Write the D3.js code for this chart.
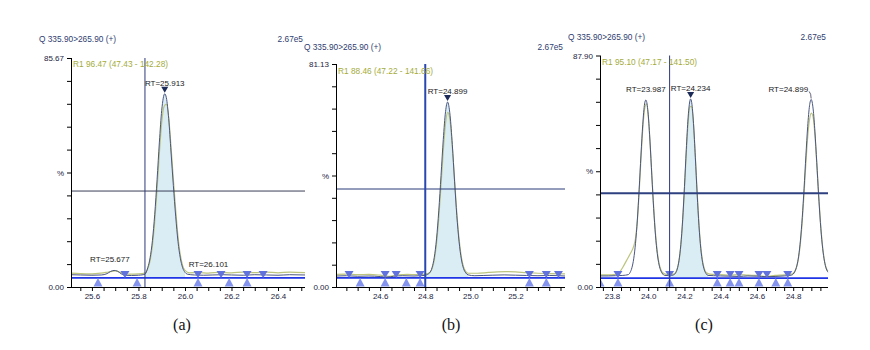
<!DOCTYPE html>
<html>
<head>
<meta charset="utf-8">
<script src="https://cdn.jsdelivr.net/npm/d3@7"></script>
<style>
  body { margin: 0; background: #fff; }
  svg text { font-family: "Liberation Sans", Arial, sans-serif; }
</style>
</head>
<body>
<svg id="chart" width="870" height="350"></svg>
<script>
// ---------- chart values ----------
const channelTitle = "Q 335.90>265.90 (+)";
const fullScale = "2.67e5";
const captions = ["(a)", "(b)", "(c)"];

// panel (a)
const yMaxA = 85.67;
const ratioA = "R1 96.47 (47.43 - 142.28)";
const xTicksA = [25.6, 25.8, 26.0, 26.2, 26.4];
const traceA = [[25.51,4.6],[25.55,4.5],[25.60,4.4],[25.64,4.5],[25.665,5.0],[25.68,5.8],[25.695,6.2],[25.71,5.9],[25.725,5.0],[25.74,4.4],[25.77,4.3],[25.80,4.4],[25.82,4.6],[25.828,4.8],[25.84,7.2],[25.85,10.9],[25.86,17.3],[25.87,27.2],[25.88,40.1],[25.89,54.2],[25.90,66.1],[25.913,72.3],[25.92,70.8],[25.93,63.0],[25.94,50.5],[25.95,38.0],[25.96,26.5],[25.97,17.0],[25.98,10.8],[25.99,7.2],[26.00,5.5],[26.01,4.8],[26.04,4.5],[26.08,4.4],[26.12,4.5],[26.16,4.6],[26.20,4.5],[26.25,4.4],[26.30,4.6],[26.35,4.5],[26.40,4.4],[26.45,4.6],[26.516,4.5]];
const smoothA = [[25.51,5.2],[25.55,5.0],[25.60,4.9],[25.64,5.2],[25.67,5.6],[25.70,6.0],[25.73,5.3],[25.76,4.8],[25.80,4.9],[25.83,5.3],[25.84,6.8],[25.85,9.8],[25.86,15.5],[25.87,24.5],[25.88,36.5],[25.89,50.0],[25.90,61.5],[25.91,67.5],[25.92,68.4],[25.93,63.5],[25.94,52.5],[25.95,40.5],[25.96,29.0],[25.97,19.0],[25.98,12.0],[25.99,8.0],[26.00,6.2],[26.02,5.3],[26.06,5.4],[26.10,5.2],[26.15,5.5],[26.20,5.3],[26.25,5.6],[26.30,5.4],[26.35,5.6],[26.40,5.3],[26.45,5.6],[26.516,5.4]];
const peaksA = [{ rt: 25.677, h: 6.2, apex: false }, { rt: 25.913, h: 72.3, apex: true }, { rt: 26.101, h: 4.5, apex: false }];
const startMarksA = [25.626, 25.794, 26.056, 26.190, 26.267];
const endMarksA = [25.742, 26.056, 26.155, 26.267, 26.336];
const cursorA = 25.828, thresholdA = 35.9, baselineA = 3.4, integA = [25.828, 26.00];

// panel (b)
const yMaxB = 81.13;
const ratioB = "R1 88.46 (47.22 - 141.66)";
const xTicksB = [24.6, 24.8, 25.0, 25.2];
const traceB = [[24.404,4.0],[24.45,4.1],[24.50,3.9],[24.55,4.0],[24.60,3.8],[24.63,3.6],[24.66,3.9],[24.70,4.1],[24.75,4.0],[24.78,4.1],[24.80,4.3],[24.82,5.2],[24.83,7.0],[24.84,10.8],[24.85,17.5],[24.86,27.7],[24.87,40.6],[24.88,53.7],[24.89,63.8],[24.899,67.3],[24.91,62.5],[24.92,51.8],[24.93,38.5],[24.94,26.0],[24.95,16.5],[24.96,10.2],[24.97,6.7],[24.98,5.1],[24.99,4.4],[25.02,4.1],[25.06,4.2],[25.10,4.3],[25.15,4.4],[25.20,4.3],[25.25,4.2],[25.30,4.1],[25.35,4.2],[25.42,4.0]];
const smoothB = [[24.404,4.6],[24.45,4.7],[24.50,4.5],[24.55,4.6],[24.60,4.3],[24.64,3.9],[24.68,4.4],[24.72,4.6],[24.76,4.5],[24.80,4.7],[24.82,5.3],[24.83,6.6],[24.84,9.8],[24.85,15.8],[24.86,25.0],[24.87,37.0],[24.88,49.5],[24.89,59.5],[24.90,63.5],[24.91,60.5],[24.92,51.0],[24.93,39.0],[24.94,27.0],[24.95,17.5],[24.96,11.0],[24.97,7.3],[24.98,5.6],[24.99,5.0],[25.03,5.0],[25.08,5.3],[25.12,5.5],[25.16,5.6],[25.20,5.5],[25.25,5.2],[25.30,5.0],[25.35,4.9],[25.42,4.8]];
const peaksB = [{ rt: 24.899, h: 67.3, apex: true }];
const startMarksB = [24.511, 24.622, 24.716, 24.777, 25.262, 25.337];
const endMarksB = [24.462, 24.622, 24.671, 24.777, 25.262, 25.337, 25.391];
const cursorB = 24.80, thresholdB = 35.65, baselineB = 3.3, integB = [24.80, 24.99];

// panel (c)
const yMaxC = 87.90;
const ratioC = "R1 95.10 (47.17 - 141.50)";
const xTicksC = [23.8, 24.0, 24.2, 24.4, 24.6, 24.8];
const traceC = [[23.734,4.2],[23.78,4.2],[23.82,4.3],[23.86,4.4],[23.89,4.7],[23.90,5.5],[23.91,7.3],[23.92,10.7],[23.93,16.6],[23.94,25.4],[23.95,37.1],[23.96,50.1],[23.97,61.8],[23.98,69.5],[23.987,71.0],[23.99,70.7],[24.00,65.6],[24.01,55.1],[24.02,42.2],[24.03,29.8],[24.04,19.7],[24.05,12.7],[24.06,8.4],[24.07,6.1],[24.08,4.9],[24.09,4.4],[24.118,4.3],[24.14,4.6],[24.15,5.2],[24.16,6.8],[24.17,10.1],[24.18,16.1],[24.19,25.5],[24.20,38.1],[24.21,52.1],[24.22,64.2],[24.234,71.4],[24.24,70.0],[24.25,62.1],[24.26,49.3],[24.27,35.4],[24.28,23.3],[24.29,14.6],[24.30,9.3],[24.31,6.4],[24.32,5.0],[24.33,4.4],[24.36,4.3],[24.40,4.2],[24.45,4.1],[24.50,4.0],[24.55,4.2],[24.60,4.1],[24.65,3.9],[24.70,4.0],[24.75,4.2],[24.79,4.5],[24.80,4.9],[24.81,6.0],[24.82,8.0],[24.83,11.7],[24.84,17.8],[24.85,26.4],[24.86,37.5],[24.87,49.8],[24.88,61.0],[24.89,68.8],[24.899,71.2],[24.91,67.6],[24.92,58.9],[24.93,47.3],[24.94,35.2],[24.95,24.5],[24.96,16.3],[24.97,10.8],[24.98,7.5],[24.992,5.6]];
const smoothC = [[23.734,4.6],[23.78,4.6],[23.82,4.8],[23.84,5.5],[23.86,7.5],[23.88,10.0],[23.90,12.5],[23.92,15.5],[23.93,18.5],[23.94,25.0],[23.95,36.0],[23.96,48.5],[23.97,60.0],[23.98,67.5],[23.99,69.5],[24.00,65.0],[24.01,55.0],[24.02,42.5],[24.03,30.5],[24.04,20.5],[24.05,13.5],[24.06,9.0],[24.07,6.6],[24.08,5.4],[24.10,4.8],[24.14,4.9],[24.15,5.4],[24.16,6.9],[24.17,10.0],[24.18,15.8],[24.19,24.8],[24.20,37.0],[24.21,50.5],[24.22,62.0],[24.23,68.5],[24.24,68.5],[24.25,61.5],[24.26,49.5],[24.27,36.0],[24.28,24.0],[24.29,15.3],[24.30,9.8],[24.31,6.9],[24.32,5.5],[24.34,4.9],[24.40,4.7],[24.45,4.5],[24.50,4.7],[24.55,4.5],[24.60,4.4],[24.65,4.0],[24.70,4.4],[24.75,4.6],[24.79,4.9],[24.80,5.2],[24.81,6.1],[24.82,7.9],[24.83,11.2],[24.84,16.8],[24.85,25.0],[24.86,35.5],[24.87,47.0],[24.88,57.0],[24.89,63.5],[24.90,66.0],[24.91,64.5],[24.92,57.5],[24.93,47.0],[24.94,35.5],[24.95,25.0],[24.96,16.8],[24.97,11.0],[24.98,7.6],[24.992,6.0]];
const peaksC = [{ rt: 23.987, h: 71.0, apex: false }, { rt: 24.234, h: 71.4, apex: true }, { rt: 24.899, h: 71.2, apex: false }];
const startMarksC = [23.734, 23.833, 24.118, 24.381, 24.452, 24.501, 24.611, 24.704, 24.770];
const endMarksC = [23.833, 24.118, 24.381, 24.452, 24.501, 24.611, 24.655, 24.770];
const cursorC = 24.118, thresholdC = 35.6, baselineC = 3.4, integC = [24.118, 24.33];

// ---------- layout ----------
const panels = [
  { x0: 71, x1: 305, yTop: 58, yBot: 287, domain: [25.51, 26.516], yMax: yMaxA, ratio: ratioA, xTicks: xTicksA,
    trace: traceA, smooth: smoothA, peaks: peaksA, starts: startMarksA, ends: endMarksA,
    cursor: cursorA, threshold: thresholdA, baseline: baselineA, integ: integA,
    titleY: 42, ratioY: 67, captionX: 182,
    cursorStyle: ["#2d3a7c", 1], thrStyle: ["#3a3f58", 1] },
  { x0: 336, x1: 565, yTop: 64, yBot: 287, domain: [24.404, 25.42], yMax: yMaxB, ratio: ratioB, xTicks: xTicksB,
    trace: traceB, smooth: smoothB, peaks: peaksB, starts: startMarksB, ends: endMarksB,
    cursor: cursorB, threshold: thresholdB, baseline: baselineB, integ: integB,
    titleY: 50, ratioY: 74, captionX: 451,
    cursorStyle: ["#2847b0", 2], thrStyle: ["#2a3a7a", 1] },
  { x0: 600, x1: 828, yTop: 55.5, yBot: 287, domain: [23.734, 24.992], yMax: yMaxC, ratio: ratioC, xTicks: xTicksC,
    trace: traceC, smooth: smoothC, peaks: peaksC, starts: startMarksC, ends: endMarksC,
    cursor: cursorC, threshold: thresholdC, baseline: baselineC, integ: integC,
    titleY: 40, ratioY: 65, captionX: 704,
    cursorStyle: ["#2c3a80", 1], thrStyle: ["#2e4080", 2] }
];

const svg = d3.select("#chart");
const defs = svg.append("defs");
const inkDark = "#1c2541";

panels.forEach((p, i) => {
  const x = d3.scaleLinear().domain(p.domain).range([p.x0, p.x1]);
  const y = d3.scaleLinear().domain([0, p.yMax]).range([p.yBot, p.yTop]);
  const g = svg.append("g");

  const clipId = "plotclip" + i;
  defs.append("clipPath").attr("id", clipId).append("rect")
    .attr("x", p.x0 + 0.5).attr("y", p.yTop - 30)
    .attr("width", p.x1 - p.x0).attr("height", p.yBot - p.yTop + 30);
  const plot = g.append("g").attr("clip-path", `url(#${clipId})`);

  // integrated area of the selected peak
  const integPts = p.trace.filter(d => d[0] >= p.integ[0] && d[0] <= p.integ[1]);
  plot.append("path").datum(integPts)
    .attr("fill", "#daedf5")
    .attr("d", d3.area().curve(d3.curveMonotoneX)
      .x(d => x(d[0])).y0(y(p.baseline)).y1(d => y(d[1])));

  // baseline of integration
  plot.append("line")
    .attr("x1", p.x0).attr("x2", p.x1)
    .attr("y1", y(p.baseline)).attr("y2", y(p.baseline))
    .attr("stroke", "#1f35e6").attr("stroke-width", 1.8);

  const line = d3.line().curve(d3.curveMonotoneX).x(d => x(d[0])).y(d => y(d[1]));
  plot.append("path").datum(p.smooth).attr("fill", "none")
    .attr("stroke", "#bcc47e").attr("stroke-width", 1.2).attr("d", line);
  plot.append("path").datum(p.trace).attr("fill", "none")
    .attr("stroke", "#4b5680").attr("stroke-width", 1).attr("d", line);

  // threshold and cursor lines
  g.append("line")
    .attr("x1", p.x0).attr("x2", p.x1)
    .attr("y1", y(p.threshold)).attr("y2", y(p.threshold))
    .attr("stroke", p.thrStyle[0]).attr("stroke-width", p.thrStyle[1]);
  g.append("line")
    .attr("x1", x(p.cursor)).attr("x2", x(p.cursor))
    .attr("y1", p.yTop).attr("y2", p.yBot)
    .attr("stroke", p.cursorStyle[0]).attr("stroke-width", p.cursorStyle[1]);

  // peak start / end markers on the baseline
  const yb = y(p.baseline);
  plot.selectAll(".endmark").data(p.ends).join("path")
    .attr("fill", "#6272dc")
    .attr("d", t => `M${x(t) - 4.5},${yb - 7}L${x(t) + 4.5},${yb - 7}L${x(t)},${yb}Z`);
  plot.selectAll(".startmark").data(p.starts).join("path")
    .attr("fill", "#8494ee")
    .attr("d", t => `M${x(t) - 4.5},${yb + 8.5}L${x(t) + 4.5},${yb + 8.5}L${x(t)},${yb}Z`);

  // axes
  const xMinor = d3.range(Math.ceil(p.domain[0] / 0.05) * 0.05, p.domain[1], 0.05).map(v => +v.toFixed(2));
  const xAxis = g.append("g").attr("transform", `translate(0,${p.yBot})`)
    .call(d3.axisBottom(x).tickValues(xMinor).tickSize(4)
      .tickFormat(v => p.xTicks.some(t => Math.abs(t - v) < 1e-6) ? d3.format(".1f")(v) : ""));
  xAxis.select(".domain").attr("d", `M${p.x0},0.5H${p.x1}`).attr("stroke", "#000");
  xAxis.selectAll(".tick line").attr("stroke", "#000");
  xAxis.selectAll(".tick text").attr("font-size", 8).attr("fill", inkDark).attr("dy", "0.75em").attr("y", 6);

  const yTicks = d3.range(0, 11).map(k => p.yMax * k / 10);
  const yAxis = g.append("g").attr("transform", `translate(${p.x0},0)`)
    .call(d3.axisLeft(y).tickValues(yTicks).tickSize(4)
      .tickFormat((v, k) => (k === 0 || k === 10) ? d3.format(".2f")(v) : (k === 5 ? "%" : "")));
  yAxis.select(".domain").attr("d", `M0.5,${p.yTop}V${p.yBot}`).attr("stroke", "#000");
  yAxis.selectAll(".tick line").attr("stroke", "#000");
  yAxis.selectAll(".tick text").attr("font-size", 8).attr("fill", inkDark).attr("x", -7);

  // header texts
  g.append("text").attr("x", p.x0 - 32).attr("y", p.titleY)
    .attr("font-size", 8.3).attr("fill", "#2f3d70").text(channelTitle);
  g.append("text").attr("x", p.x1 - 2).attr("y", p.titleY).attr("text-anchor", "end")
    .attr("font-size", 8.3).attr("fill", "#2f3d70").text(fullScale);
  g.append("text").attr("x", p.x0 + 2).attr("y", p.ratioY)
    .attr("font-size", 8.3).attr("fill", "#a4ab3a").text(p.ratio);

  // retention time labels
  p.peaks.forEach(pk => {
    const px = x(pk.rt), py = y(pk.h);
    if (pk.apex) {
      g.append("path").attr("fill", "#1c2a58")
        .attr("d", `M${px - 3.5},${py - 7}L${px + 3.5},${py - 7}L${px},${py - 1}Z`);
    }
    const lab = g.append("text").attr("x", px).attr("y", py - 8)
      .attr("text-anchor", "middle").attr("font-size", 8).attr("fill", "#1a1a1a")
      .text("RT=" + d3.format(".3f")(pk.rt));
    const w = lab.node().getComputedTextLength();
    if (px + w / 2 > p.x1) {
      lab.attr("text-anchor", "end").attr("x", px - 3).attr("y", py - 7);
      g.append("path").attr("fill", "none").attr("stroke", "#3b3f55").attr("stroke-width", 0.8)
        .attr("d", `M${px - 2},${py - 8} Q${px},${py - 6} ${px},${py - 1}`);
    }
  });

  // panel caption
  svg.append("text").attr("x", p.captionX).attr("y", 330).attr("text-anchor", "middle")
    .attr("font-family", "'Liberation Serif', 'Times New Roman', serif")
    .style("font-family", "'Liberation Serif', 'Times New Roman', serif")
    .attr("font-size", 16).attr("fill", "#111").text(captions[i]);
});
</script>
</body>
</html>
